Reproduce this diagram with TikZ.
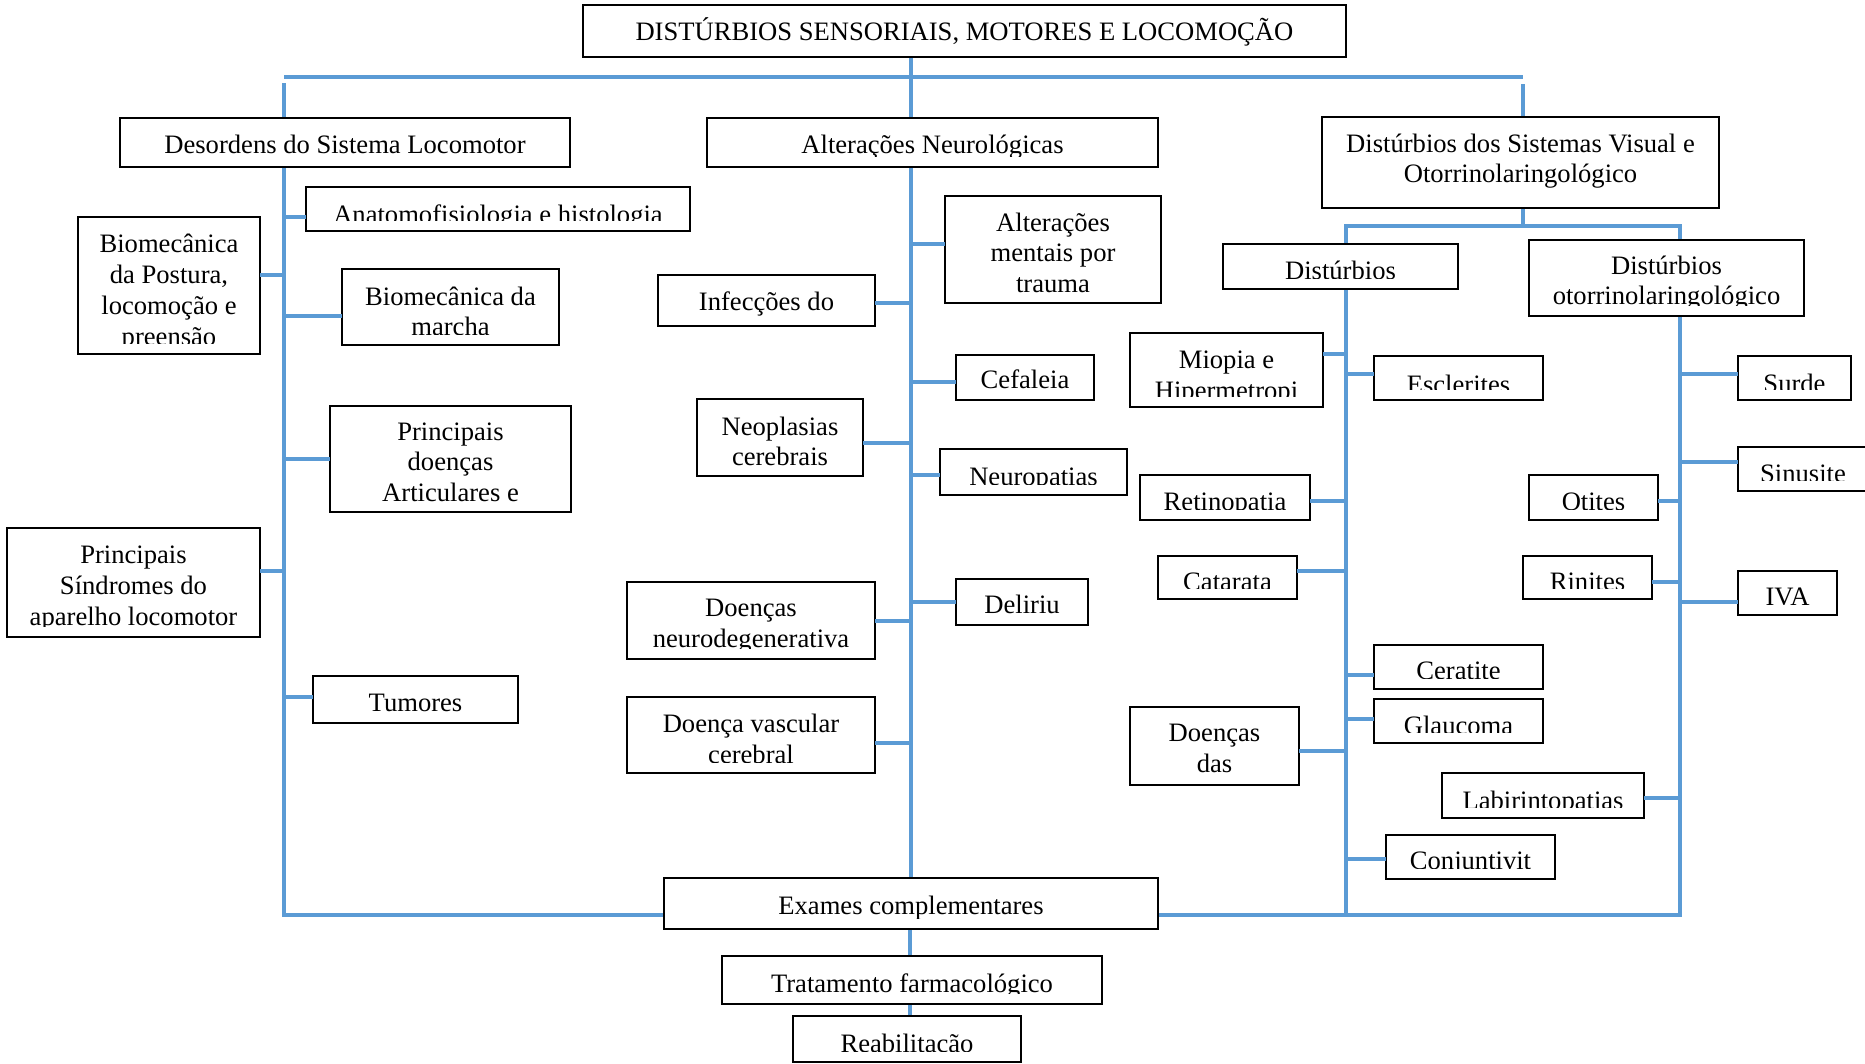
\documentclass[tikz,border=0pt]{standalone}
\usepackage{fontspec}
\setmainfont{Liberation Serif}
\begin{document}
\definecolor{linkblue}{RGB}{91,155,213}
\tikzset{
  boxst/.style={draw=black, line width=2pt, rectangle, inner sep=0pt, outer sep=0pt, fill=white},
  lab/.style={anchor=base, align=center, inner sep=0pt, outer sep=0pt,
              font=\fontsize{26.6pt}{30.9pt}\selectfont},
  conn/.style={draw=linkblue, line width=3.8pt}
}
% box: name, x1, y1, x2, y2, baseline of the last text line, text
% (the text is clipped to the box interior)
\newcommand\bx[7]{%
  \node[boxst, minimum width={#4pt-#2pt}, minimum height={#5pt-#3pt}]
    (#1) at ({(#2+#4)/2},{(#3+#5)/2}) {};
  \begin{scope}
    \clip (#2+2,#3+2) rectangle (#4-2,#5-11);
    \node[lab] (#1-t) at ({(#2+#4)/2},#6) {#7};
  \end{scope}}
% horizontal branch from a trunk to a box side at a given height
\newcommand\stub[3]{\draw[conn] (#1 |- 0,#3) -- (#2 |- 0,#3);}
\begin{tikzpicture}[x=1pt,y=-1pt]
\useasboundingbox (0,0) rectangle (1865,1063);
\fill[white] (0,0) rectangle (1865,1063);

% trunk columns
\coordinate (L) at (284,0);
\coordinate (C) at (911,0);
\coordinate (R) at (1523,0);
\coordinate (V) at (1346,0);
\coordinate (O) at (1680,0);

% ---- connectors (drawn first, boxes on top) ----
\draw[conn] (L |- 0,77) -- (R |- 0,77);
\draw[conn] (C |- 0,57) -- (C |- 0,118);
\draw[conn] (L |- 0,83) -- (L |- 0,118);
\draw[conn] (R |- 0,84) -- (R |- 0,117);
% left trunk and bottom line
\draw[conn] (L |- 0,167) -- (L |- 0,915) -- (664,915);
% central trunk
\draw[conn] (C |- 0,167) -- (C |- 0,878);
\draw[conn] (910,929) -- (910,956);
\draw[conn] (910,1004) -- (910,1016);
% visual / ORL split
\draw[conn] (R |- 0,208) -- (R |- 0,226);
\draw[conn] (V |- 0,244) -- (V |- 0,226) -- (O |- 0,226) -- (O |- 0,240);
\draw[conn] (V |- 0,289) -- (V |- 0,915);
\draw[conn] (O |- 0,316) -- (O |- 0,915) -- (1158,915);

% ---- boxes ----
\bx{title}{583}{5}{1346}{57}{40}{DISTÚRBIOS SENSORIAIS, MOTORES E LOCOMOÇÃO}
\bx{des}{120}{118}{570}{167}{153}{Desordens do Sistema Locomotor}
\bx{alt}{707}{118}{1158}{167}{153}{Alterações Neurológicas}
\bx{vis}{1322}{117}{1719}{208}{182.9}{Distúrbios dos Sistemas Visual e\\Otorrinolaringológico}

% locomotor branch
\bx{anat}{306}{187}{690}{231}{223.6}{Anatomofisiologia e histologia}
\bx{post}{78}{217}{260}{354}{345.3}{Biomecânica\\da Postura,\\locomoção e\\preensão}
\bx{marcha}{342}{269}{559}{345}{335.9}{Biomecânica da\\marcha}
\bx{artic}{330}{406}{571}{512}{501.8}{Principais\\doenças\\Articulares e}
\bx{sindr}{7}{528}{260}{637}{625.3}{Principais\\Síndromes do\\aparelho locomotor}
\bx{tumor}{313}{676}{518}{723}{711}{Tumores}

% neurological branch
\bx{infec}{658}{275}{875}{326}{310.5}{Infecções do}
\bx{mental}{945}{196}{1161}{303}{292.8}{Alterações\\mentais por\\trauma}
\bx{cef}{956}{355}{1094}{400}{388.3}{Cefaleia}
\bx{neopl}{697}{399}{863}{476}{465.9}{Neoplasias\\cerebrais}
\bx{neurop}{940}{449}{1127}{495}{485}{Neuropatias}
\bx{delir}{956}{579}{1088}{625}{613.6}{Deliriu}
\bx{neurod}{627}{582}{875}{659}{647.6}{Doenças\\neurodegenerativa}
\bx{vasc}{627}{697}{875}{773}{763.2}{Doença vascular\\cerebral}

% visual branch
\bx{dist}{1223}{244}{1458}{289}{279}{Distúrbios}
\bx{miop}{1130}{333}{1323}{407}{399.2}{Miopia e\\Hipermetropi}
\bx{escl}{1374}{356}{1543}{400}{393.6}{Esclerites}
\bx{retin}{1140}{475}{1310}{520}{510.3}{Retinopatia}
\bx{catar}{1158}{556}{1297}{599}{590}{Catarata}
\bx{cerat}{1374}{645}{1543}{689}{679.3}{Ceratite}
\bx{glauc}{1374}{699}{1543}{743}{734}{Glaucoma}
\bx{doen}{1130}{707}{1299}{785}{772.6}{Doenças\\das}
\bx{conj}{1386}{835}{1555}{879}{869}{Conjuntivit}

% ORL branch
\bx{orl}{1529}{240}{1804}{316}{304.9}{Distúrbios\\otorrinolaringológico}
\bx{surde}{1738}{356}{1851}{400}{392.6}{Surde}
\bx{sinus}{1738}{447}{1868}{491}{482.6}{Sinusite}
\bx{otit}{1529}{475}{1658}{520}{510}{Otites}
\bx{rinit}{1523}{556}{1652}{599}{590}{Rinites}
\bx{iva}{1738}{571}{1837}{615}{605.6}{IVA}
\bx{labir}{1442}{773}{1644}{818}{809}{Labirintopatias}

% bottom chain
\bx{exam}{664}{878}{1158}{929}{914}{Exames complementares}
\bx{trat}{722}{956}{1102}{1004}{992.6}{Tratamento farmacológico}
\bx{reab}{793}{1016}{1021}{1062}{1052}{Reabilitação}

% ---- branch stubs ----
\stub{L}{anat.west}{217}
\stub{L}{post.east}{275}
\stub{L}{marcha.west}{316}
\stub{L}{artic.west}{459}
\stub{L}{sindr.east}{571}
\stub{L}{tumor.west}{697}

\stub{C}{mental.west}{244}
\stub{C}{infec.east}{303}
\stub{C}{cef.west}{382}
\stub{C}{neopl.east}{443}
\stub{C}{neurop.west}{475}
\stub{C}{delir.west}{602}
\stub{C}{neurod.east}{621}
\stub{C}{vasc.east}{743}

\stub{V}{miop.east}{354}
\stub{V}{escl.west}{374}
\stub{V}{retin.east}{501}
\stub{V}{catar.east}{571}
\stub{V}{cerat.west}{675}
\stub{V}{glauc.west}{719}
\stub{V}{doen.east}{751}
\stub{V}{conj.west}{859}

\stub{O}{surde.west}{374}
\stub{O}{sinus.west}{462}
\stub{O}{otit.east}{501}
\stub{O}{rinit.east}{582}
\stub{O}{iva.west}{602}
\stub{O}{labir.east}{798}
\end{tikzpicture}
\end{document}
